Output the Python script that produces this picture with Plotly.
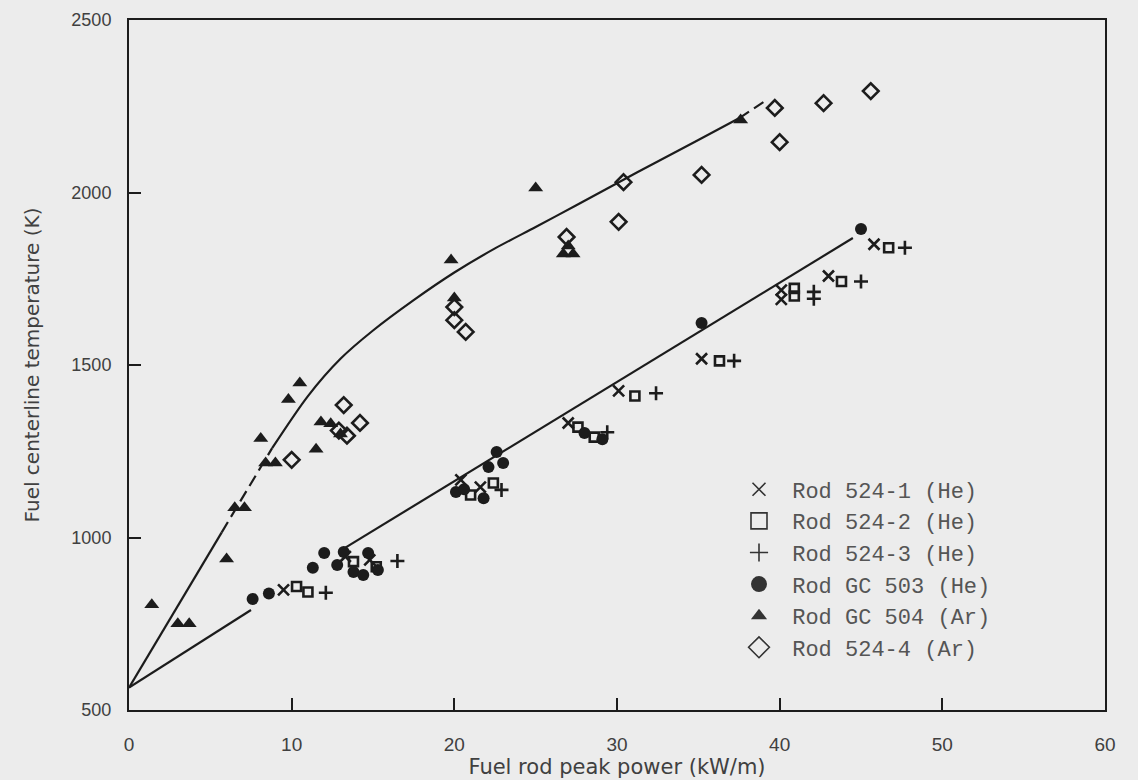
import plotly.graph_objects as go

# ---------------- data ----------------
rod_524_1_x = [9.5, 13.3, 14.8, 20.4, 21.6, 27.0, 30.1, 35.2, 40.1, 40.1, 43.0, 45.8]
rod_524_1_y = [848, 945, 935, 1167, 1146, 1332, 1425, 1518, 1717, 1690, 1758, 1850]

rod_524_2_x = [10.3, 11.0, 13.8, 15.2, 21.0, 22.4, 27.6, 28.6, 31.1, 36.3, 40.9, 40.9, 43.8, 46.7]
rod_524_2_y = [858, 842, 930, 915, 1123, 1158, 1320, 1291, 1410, 1512, 1700, 1722, 1742, 1840]

rod_524_3_x = [12.1, 16.5, 22.9, 29.4, 32.4, 37.2, 42.1, 42.1, 45.0, 47.7]
rod_524_3_y = [840, 932, 1138, 1305, 1418, 1512, 1712, 1692, 1742, 1840]

rod_gc503_x = [7.6, 8.6, 11.3, 12.0, 12.8, 13.2, 13.8, 14.4, 14.7, 15.3, 20.1, 20.6,
               21.8, 22.1, 23.0, 22.6, 28.0, 29.1, 35.2, 45.0]
rod_gc503_y = [822, 838, 912, 955, 920, 958, 900, 891, 955, 906, 1132, 1140,
               1114, 1204, 1216, 1248, 1303, 1285, 1622, 1894]

rod_gc504_x = [1.4, 3.0, 3.7, 6.0, 6.5, 7.1, 8.1, 8.4, 9.0, 9.8, 10.5, 11.5,
               11.8, 12.4, 13.0, 19.8, 20.0, 25.0, 27.0, 26.7, 27.3, 37.6]
rod_gc504_y = [805, 750, 750, 938, 1086, 1086, 1287, 1216, 1216, 1400, 1448, 1256,
               1335, 1330, 1300, 1804, 1694, 2013, 1845, 1822, 1822, 2210]

rod_524_4_x = [10.0, 13.2, 14.2, 12.9, 13.4, 20.0, 20.0, 20.7, 26.9, 30.1, 30.4,
               35.2, 40.0, 39.7, 42.7, 45.6]
rod_524_4_y = [1225, 1384, 1332, 1310, 1295, 1668, 1630, 1596, 1871, 1915, 2030,
               2051, 2146, 2245, 2259, 2294]

# fitted curves
ar_low_x = [0, 3.0, 5.7]
ar_low_y = [565, 800, 1015]
ar_solid_x = [8.8, 11, 13, 15, 17.5, 20, 22.5, 25, 27.5, 30, 32.5, 35, 37.5]
ar_solid_y = [1259, 1410, 1518, 1600, 1688, 1768, 1838, 1900, 1963, 2027, 2090, 2152, 2215]
ar_dash_x = [5.7, 8.8, None, 37.5, 39.0]
ar_dash_y = [1015, 1259, None, 2215, 2262]

he_line_x = [0, 7.5, None, 13.0, 44.5]
he_line_y = [565, 790, None, 962, 1868]

series = [
    ("Rod 524-1 (He)", rod_524_1_x, rod_524_1_y, "x-thin-open", 11, 2.6),
    ("Rod 524-2 (He)", rod_524_2_x, rod_524_2_y, "square-open", 9, 2.6),
    ("Rod 524-3 (He)", rod_524_3_x, rod_524_3_y, "cross-thin-open", 10, 2.6),
    ("Rod GC 503 (He)", rod_gc503_x, rod_gc503_y, "circle", 12, 0),
    ("Rod GC 504 (Ar)", rod_gc504_x, rod_gc504_y, "triangle-up", 13, 0),
    ("Rod 524-4 (Ar)", rod_524_4_x, rod_524_4_y, "diamond-open", 12, 2.6),
]

INK = "#1c1c1c"
GRAY_TXT = "#404040"
BG = "#ececec"

fig = go.Figure()

# curves
fig.add_trace(go.Scatter(x=ar_low_x, y=ar_low_y, mode="lines", line=dict(color=INK, width=2.2),
                         showlegend=False, hoverinfo="skip"))
fig.add_trace(go.Scatter(x=ar_solid_x, y=ar_solid_y, mode="lines",
                         line=dict(color=INK, width=2.2, shape="spline", smoothing=0.8),
                         showlegend=False, hoverinfo="skip"))
fig.add_trace(go.Scatter(x=ar_dash_x, y=ar_dash_y, mode="lines", line=dict(color=INK, width=2.2, dash="12px,6px"),
                         showlegend=False, hoverinfo="skip"))
fig.add_trace(go.Scatter(x=he_line_x, y=he_line_y, mode="lines", line=dict(color=INK, width=2.2),
                         showlegend=False, hoverinfo="skip"))

# data points
for name, xs, ys, sym, size, lw in series:
    fig.add_trace(go.Scatter(
        x=xs, y=ys, mode="markers", name=name, showlegend=False,
        marker=dict(symbol=sym, size=size, color=INK,
                    line=dict(color=INK, width=lw)),
    ))

# legend entries (grey, as printed in the key)
leg_sizes = {"x-thin-open": 13, "square-open": 18, "cross-thin-open": 13,
             "circle": 17, "triangle-up": 14, "diamond-open": 17}
for name, xs, ys, sym, size, lw in series:
    fig.add_trace(go.Scatter(
        x=[None], y=[None], mode="markers", name=" " + name, showlegend=True,
        marker=dict(symbol=sym, size=leg_sizes[sym], color="#333333",
                    line=dict(color="#555555", width=1.6 if lw else 0)),
    ))

fig.update_layout(
    width=1138, height=780,
    margin=dict(l=129, r=33, t=20, b=70, autoexpand=False),
    paper_bgcolor=BG, plot_bgcolor=BG,
    font=dict(family="DejaVu Sans, Arial, sans-serif", color=GRAY_TXT, size=17),
    legend=dict(
        x=0.625, y=0.35, xanchor="left", yanchor="top",
        bgcolor="rgba(0,0,0,0)", borderwidth=0,
        font=dict(family="Liberation Mono, DejaVu Sans Mono, monospace", size=22, color="#555555"),
        tracegroupgap=0, itemsizing="trace",
    ),
    xaxis=dict(
        range=[0, 60], tickvals=[0, 10, 20, 30, 40, 50, 60],
        ticks="inside", ticklen=12, tickwidth=1.6, tickcolor=INK,
        showline=True, linecolor=INK, linewidth=2, mirror=True,
        showgrid=False, zeroline=False, automargin=False,
        ticklabelstandoff=16,
        tickfont=dict(family="Liberation Sans, Arial, sans-serif", size=19, color=GRAY_TXT),
        title=dict(text="Fuel rod peak power (kW/m)", font=dict(size=21, color=GRAY_TXT), standoff=0),
    ),
    yaxis=dict(
        range=[500, 2500], tickvals=[500, 1000, 1500, 2000, 2500],
        ticks="inside", ticklen=12, tickwidth=1.6, tickcolor=INK,
        showline=True, linecolor=INK, linewidth=2, mirror=True,
        showgrid=False, zeroline=False, automargin=False,
        ticklabelstandoff=12,
        tickfont=dict(family="Liberation Sans, Arial, sans-serif", size=18, color=GRAY_TXT),
        title=dict(text="Fuel centerline temperature (K)", font=dict(size=20, color=GRAY_TXT), standoff=26),
    ),
    showlegend=True,
)

fig.write_html("out.html")
